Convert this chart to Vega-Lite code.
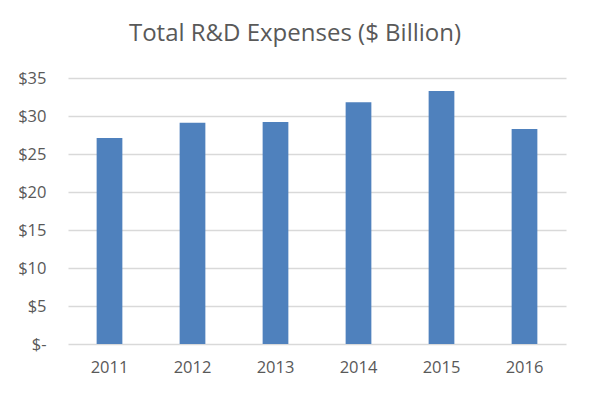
{
  "$schema": "https://vega.github.io/schema/vega-lite/v6.json",
  "autosize": "none",
  "width": 498,
  "height": 266,
  "padding": {"left": 68, "top": 78, "right": 23, "bottom": 49},
  "background": "white",
  "title": {
    "text": "Total R&D Expenses ($ Billion)",
    "font": "Open Sans",
    "fontSize": 24,
    "fontWeight": "normal",
    "color": "#595959",
    "anchor": "middle",
    "baseline": "alphabetic",
    "offset": 5,
    "dx": -22
  },
  "data": {
    "values": [
      {"year": "2011", "expenses": 27.1},
      {"year": "2012", "expenses": 29.1},
      {"year": "2013", "expenses": 29.2},
      {"year": "2014", "expenses": 31.8},
      {"year": "2015", "expenses": 33.3},
      {"year": "2016", "expenses": 28.3}
    ]
  },
  "config": {
    "view": {"stroke": null},
    "axis": {
      "labelFont": "Open Sans",
      "labelFontSize": 16.5,
      "labelColor": "#595959",
      "ticks": false,
      "domain": false,
      "title": null
    }
  },
  "mark": {"type": "bar", "color": "#4F81BD"},
  "encoding": {
    "x": {
      "field": "year",
      "type": "ordinal",
      "scale": {"paddingInner": 0.69, "paddingOuter": 0.345},
      "axis": {"labelAngle": 0, "labelPadding": 15, "grid": false}
    },
    "y": {
      "field": "expenses",
      "type": "quantitative",
      "scale": {"domain": [0, 35]},
      "axis": {
        "values": [0, 5, 10, 15, 20, 25, 30, 35],
        "labelExpr": "datum.value == 0 ? '$-\u00a0\u00a0' : '$' + datum.value",
        "labelPadding": 22,
        "grid": true,
        "gridColor": "#d9d9d9",
        "gridWidth": 1.5
      }
    }
  }
}
